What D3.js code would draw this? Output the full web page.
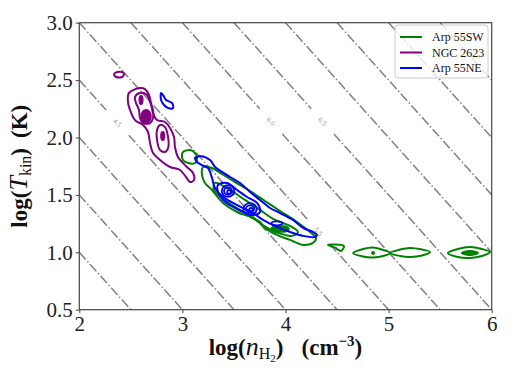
<!DOCTYPE html>
<html lang='en'>

<head>
   <meta charset='UTF-8'>
   <script src='https://cdnjs.cloudflare.com/ajax/libs/d3/7.8.5/d3.min.js'></script>

   <style>
      body {
         margin: 0;
         background: white;
      }

      svg {
         display: block;
      }

      text {
         font-family: 'Liberation Serif', 'DejaVu Serif', serif;
         white-space: pre;
      }
   </style>

   <title>Excitation contours</title>
</head>

<body>
   <svg id='chart'></svg>

   <script>
      'use strict'

      // ---- data, all in (log n, log T) ----
      const sources = ['Arp 55SW', 'NGC 2623', 'Arp 55NE']

      const xTicks = [2, 3, 4, 5, 6]
      const yTicks = [0.5, 1.0, 1.5, 2.0, 2.5, 3.0]

      // log(n T) of the dash-dot isobars
      const isobarLevels = [3.0, 3.5, 4.0, 4.5, 5.0, 5.5, 6.0, 6.5, 7.0, 7.5, 8.0, 8.5]
      // which isobars carry a label, and at which log n
      const isobarLabels = [
         { level: 4.5, at: 2.37 },
         { level: 5.5, at: 4.32 },
         { level: 6.0, at: 3.86 },
         { level: 6.5, at: 4.36 }
      ]

      // contour rings for each source
      const arp55swRings = [
         [[3.006, 1.874], [3.074, 1.891], [3.122, 1.865], [3.142, 1.822], [3.122, 1.778], [3.054, 1.778], [3.006, 1.804], [2.996, 1.848]],
         [[3.200, 1.743], [3.287, 1.734], [3.384, 1.682], [3.510, 1.612], [3.656, 1.534], [3.801, 1.447], [3.947, 1.360], [4.111, 1.264],
          [4.238, 1.177], [4.296, 1.125], [4.277, 1.090], [4.170, 1.064], [4.044, 1.108], [3.917, 1.151], [3.801, 1.212], [3.753, 1.264],
          [3.656, 1.308], [3.530, 1.351], [3.394, 1.430], [3.287, 1.543], [3.219, 1.604], [3.190, 1.674]],
         [[3.316, 1.604], [3.462, 1.543], [3.607, 1.456], [3.753, 1.369], [3.898, 1.282], [4.044, 1.230], [4.121, 1.177], [4.063, 1.143],
          [3.927, 1.169], [3.791, 1.230], [3.656, 1.317], [3.510, 1.395], [3.384, 1.473], [3.306, 1.543]],
         [[4.412, 1.064], [4.470, 1.068], [4.567, 1.055], [4.538, 1.012], [4.480, 1.040]],
         [[4.656, 0.994], [4.753, 1.029], [4.850, 1.042], [4.947, 1.020], [5.015, 0.994], [4.947, 0.968], [4.850, 0.955], [4.753, 0.963]],
         [[5.015, 0.994], [5.112, 1.024], [5.209, 1.037], [5.325, 1.024], [5.402, 1.003], [5.325, 0.972], [5.209, 0.959], [5.112, 0.968]],
         [[5.575, 0.994], [5.672, 1.029], [5.789, 1.046], [5.905, 1.029], [5.982, 1.003], [5.905, 0.968], [5.789, 0.951], [5.672, 0.959]],
         [[5.711, 0.994], [5.789, 1.011], [5.866, 0.994], [5.789, 0.977]]
      ]
      // innermost levels: [log n, log T, half width, half height]
      const arp55swCores = [[3.947, 1.204, 0.085, 0.026], [5.789, 0.994, 0.05, 0.013], [4.850, 0.994, 0.01, 0.008]]

      const ngc2623Rings = [
         [[2.589, 2.431], [2.637, 2.422], [2.676, 2.370], [2.695, 2.301], [2.715, 2.214], [2.754, 2.152], [2.831, 2.135], [2.880, 2.083],
          [2.919, 2.004], [2.928, 1.917], [2.957, 1.830], [3.044, 1.743], [3.103, 1.691], [3.112, 1.630], [3.074, 1.613], [3.035, 1.656],
          [2.977, 1.717], [2.880, 1.743], [2.783, 1.804], [2.715, 1.865], [2.686, 1.952], [2.666, 2.048], [2.618, 2.109], [2.540, 2.152],
          [2.492, 2.240], [2.472, 2.309], [2.482, 2.388]],
         [[2.540, 2.353], [2.589, 2.388], [2.657, 2.370], [2.686, 2.309], [2.715, 2.240], [2.715, 2.170], [2.686, 2.126], [2.618, 2.126],
          [2.589, 2.170], [2.579, 2.240], [2.550, 2.301]],
         [[2.783, 2.109], [2.831, 2.091], [2.861, 2.004], [2.861, 1.908], [2.831, 1.874], [2.783, 1.891], [2.754, 1.978], [2.754, 2.065]],
         [[2.338, 2.553], [2.367, 2.570], [2.415, 2.570], [2.434, 2.553], [2.415, 2.527], [2.357, 2.527]]
      ]
      const ngc2623Cores = [[2.648, 2.184, 0.045, 0.055], [2.599, 2.327, 0.015, 0.035], [2.809, 2.013, 0.015, 0.035]]

      const arp55neRings = [
         [[2.793, 2.388], [2.812, 2.370], [2.841, 2.327], [2.899, 2.301], [2.909, 2.257], [2.861, 2.257], [2.822, 2.283], [2.793, 2.327]],
         [[3.142, 1.830], [3.171, 1.839], [3.268, 1.804], [3.316, 1.743], [3.384, 1.700], [3.462, 1.656], [3.559, 1.604], [3.656, 1.525],
          [3.753, 1.456], [3.850, 1.386], [3.947, 1.342], [4.072, 1.282], [4.170, 1.212], [4.267, 1.177], [4.306, 1.151], [4.287, 1.134],
          [4.170, 1.143], [4.044, 1.177], [3.917, 1.221], [3.782, 1.282], [3.685, 1.342], [3.588, 1.386], [3.491, 1.430], [3.394, 1.482],
          [3.316, 1.560], [3.287, 1.648], [3.248, 1.734], [3.190, 1.760], [3.142, 1.787], [3.122, 1.822]],
         [[3.345, 1.587], [3.433, 1.604], [3.530, 1.543], [3.627, 1.482], [3.724, 1.430], [3.753, 1.351], [3.685, 1.325], [3.588, 1.351],
          [3.491, 1.395], [3.394, 1.456], [3.345, 1.525]]
      ]
      // small closed loops: [log n, log T, half width, half height]
      const arp55neLoops = [
         [3.442, 1.534, 0.06, 0.05], [3.442, 1.534, 0.038, 0.032], [3.452, 1.526, 0.018, 0.016],
         [3.656, 1.378, 0.065, 0.05], [3.656, 1.378, 0.04, 0.03], [3.666, 1.372, 0.018, 0.014],
         [3.917, 1.252, 0.053, 0.017]
      ]

      const sourceRings = [arp55swRings, ngc2623Rings, arp55neRings]
      const sourceLoops = [[], [], arp55neLoops]
      const sourceCores = [arp55swCores, ngc2623Cores, []]

      // ---- drawing ----
      const width = 512,
         height = 384
      const colours = ['#008000', '#800080', '#0000ff']
      const titleFont = "'DejaVu Serif', serif",
         mathFont = "'Liberation Serif', serif"

      const svg = d3.select('#chart')
         .attr('width', width)
         .attr('height', height)

      const x = d3.scaleLinear([2, 6], [79.3, 491.7])
      const y = d3.scaleLinear([0.5, 3.0], [309.7, 22.7])

      svg.append('clipPath')
         .attr('id', 'plot-clip')
         .append('rect')
         .attr('x', x(2))
         .attr('y', y(3))
         .attr('width', x(6) - x(2))
         .attr('height', y(0.5) - y(3))

      const plot = svg.append('g').attr('clip-path', 'url(#plot-clip)')

      // isobars, cut where a label sits
      const gap = 0.11
      const isoLine = d3.line().x(d => x(d[0])).y(d => y(d[1]))
      const isoSegments = []
      isobarLevels.forEach(p => {
         const a = Math.max(2, p - 3),
            b = Math.min(6, p - 0.5)
         if (a >= b) return
         const lab = isobarLabels.find(l => l.level === p)
         const cuts = lab ? [[a, lab.at - gap], [lab.at + gap, b]] : [[a, b]]
         cuts.forEach(c => isoSegments.push([[c[0], p - c[0]], [c[1], p - c[1]]]))
      })

      plot.selectAll('path.isobar')
         .data(isoSegments)
         .enter()
         .append('path')
         .attr('class', 'isobar')
         .attr('d', isoLine)
         .attr('fill', 'none')
         .attr('stroke', '#808080')
         .attr('stroke-width', 1.5)
         .attr('stroke-dasharray', '9.6,2.4,1.5,2.4')

      const slope = Math.atan2(y(0) - y(1), x(1) - x(0)) * 180 / Math.PI

      plot.selectAll('text.isolabel')
         .data(isobarLabels)
         .enter()
         .append('text')
         .attr('class', 'isolabel')
         .attr('transform', d => `translate(${x(d.at)},${y(d.level - d.at)}) rotate(${slope})`)
         .attr('text-anchor', 'middle')
         .attr('dy', '0.35em')
         .attr('font-size', 7)
         .attr('fill', '#909090')
         .text(d => d.level.toFixed(1))

      // contours
      const ring = d3.line()
         .x(d => x(d[0]))
         .y(d => y(d[1]))
         .curve(d3.curveCatmullRomClosed.alpha(0.5))

      sources.forEach((s, i) => {
         const g = plot.append('g').attr('class', 'source')

         g.selectAll('path')
            .data(sourceRings[i])
            .enter()
            .append('path')
            .attr('d', ring)
            .attr('fill', 'none')
            .attr('stroke', colours[i])
            .attr('stroke-width', 2)
            .attr('stroke-linejoin', 'round')

         g.selectAll('ellipse.loop')
            .data(sourceLoops[i])
            .enter()
            .append('ellipse')
            .attr('class', 'loop')
            .attr('cx', d => x(d[0]))
            .attr('cy', d => y(d[1]))
            .attr('rx', d => x(d[0] + d[2]) - x(d[0]))
            .attr('ry', d => y(d[1]) - y(d[1] + d[3]))
            .attr('fill', 'none')
            .attr('stroke', colours[i])
            .attr('stroke-width', 1.8)

         g.selectAll('ellipse.core')
            .data(sourceCores[i])
            .enter()
            .append('ellipse')
            .attr('class', 'core')
            .attr('cx', d => x(d[0]))
            .attr('cy', d => y(d[1]))
            .attr('rx', d => x(d[0] + d[2]) - x(d[0]))
            .attr('ry', d => y(d[1]) - y(d[1] + d[3]))
            .attr('fill', colours[i])
            .attr('stroke', colours[i])
            .attr('stroke-width', 2)
      })

      // axes
      svg.append('g')
         .attr('transform', `translate(0,${y(0.5)})`)
         .call(d3.axisBottom(x).tickValues(xTicks).tickFormat(d3.format('d')).tickSize(3.5).tickPadding(3))

      svg.append('g')
         .attr('transform', `translate(${x(2)},0)`)
         .call(d3.axisLeft(y).tickValues(yTicks).tickFormat(d3.format('.1f')).tickSize(3.5).tickPadding(3))

      svg.selectAll('.tick text')
         .attr('font-family', mathFont)
         .attr('font-size', 21)
         .attr('fill', '#222')
      svg.selectAll('.tick line').attr('stroke', '#444')
      svg.selectAll('.domain').attr('stroke', 'none')

      svg.append('rect')
         .attr('x', x(2))
         .attr('y', y(3))
         .attr('width', x(6) - x(2))
         .attr('height', y(0.5) - y(3))
         .attr('fill', 'none')
         .attr('stroke', '#444')
         .attr('stroke-width', 1.2)

      // axis titles
      const xTitle = svg.append('text')
         .attr('x', (x(2) + x(6)) / 2)
         .attr('y', 355)
         .attr('text-anchor', 'middle')
         .attr('font-family', titleFont)
         .attr('font-size', 23)
         .attr('font-weight', 'bold')
         .attr('fill', '#111')
      xTitle.append('tspan').text('log(')
      xTitle.append('tspan').attr('font-family', mathFont).attr('font-size', 26)
         .attr('font-style', 'italic').attr('font-weight', 'normal').text('n')
      xTitle.append('tspan').attr('font-family', mathFont).attr('font-size', 16)
         .attr('font-weight', 'normal').attr('dy', 4).text('H')
      xTitle.append('tspan').attr('font-family', mathFont).attr('font-size', 11)
         .attr('font-weight', 'normal').attr('dy', 3).text('2')
      xTitle.append('tspan').attr('dy', -7).text(')')
      xTitle.append('tspan').attr('dx', 18).text('(cm')
      xTitle.append('tspan').attr('font-size', 15).attr('dy', -9).text('\u22123')
      xTitle.append('tspan').attr('dy', 9).text(')')

      const yTitle = svg.append('text')
         .attr('transform', `translate(27,${(y(0.5) + y(3)) / 2}) rotate(-90)`)
         .attr('text-anchor', 'middle')
         .attr('font-family', titleFont)
         .attr('font-size', 23)
         .attr('font-weight', 'bold')
         .attr('fill', '#111')
      yTitle.append('tspan').text('log(')
      yTitle.append('tspan').attr('font-family', mathFont).attr('font-size', 26)
         .attr('font-style', 'italic').attr('font-weight', 'normal').text('T')
      yTitle.append('tspan').attr('font-family', mathFont).attr('font-size', 16)
         .attr('font-weight', 'normal').attr('dy', 4).text('kin')
      yTitle.append('tspan').attr('dy', -4).text(')')
      yTitle.append('tspan').attr('dx', 10).text('(K)')

      // legend
      const legend = svg.append('g').attr('transform', 'translate(395,25)')
      legend.append('rect')
         .attr('width', 93)
         .attr('height', 53)
         .attr('rx', 3)
         .attr('fill', 'white')
         .attr('fill-opacity', 0.8)
         .attr('stroke', '#cccccc')

      const rows = legend.selectAll('g.row')
         .data(sources)
         .enter()
         .append('g')
         .attr('class', 'row')
         .attr('transform', (d, i) => `translate(0,${12 + i * 15.5})`)

      rows.append('line')
         .attr('x1', 5)
         .attr('x2', 27)
         .attr('stroke', (d, i) => colours[i])
         .attr('stroke-width', 2)

      rows.append('text')
         .attr('x', 37)
         .attr('dy', '0.35em')
         .attr('font-size', 12)
         .attr('fill', '#111')
         .text(d => d)
   </script>
</body>

</html>
